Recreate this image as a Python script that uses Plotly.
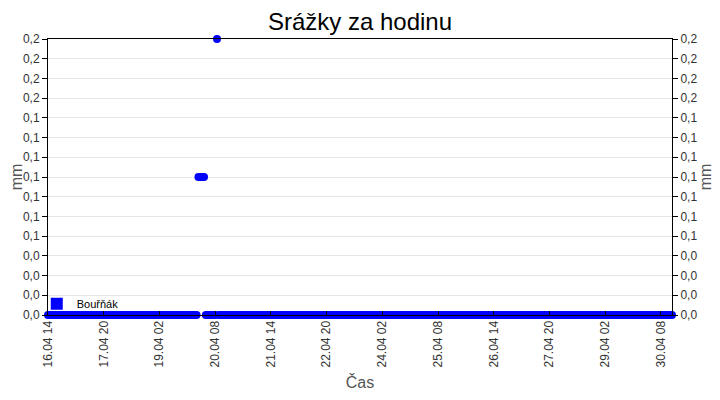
import plotly.graph_objects as go
import pandas as pd

# ---- data ----
start_time = "2024-04-16 14:00"
hours_count = 337  # hourly readings, 16.04 14:00 .. 30.04 14:00
rain_mm = [0.0] * 81 + [0.1] * 4 + [0.0] * 6 + [0.2] + [0.0] * 245
series_name = "Bouřňák"
title_text = "Srážky za hodinu"
x_title = "Čas"
y_title = "mm"
tick_step_hours = 30
y_max = 0.2
y_ticks_n = 14

times = pd.date_range(start_time, periods=hours_count, freq="h")
xticks = list(times[::tick_step_hours])
xtext = [t.strftime("%d.%m %H") for t in xticks]
yvals = [y_max * i / y_ticks_n for i in range(y_ticks_n + 1)]
ytext = [f"{v:.1f}".replace(".", ",") for v in yvals]

font_family = "Liberation Sans, Arial, sans-serif"
tick_font = dict(family=font_family, size=12, color="#333")

# the page body has an 8px margin, so the figure is sized to fit the window
W, H = 712, 392

fig = go.Figure()
fig.add_trace(go.Scatter(
    x=times, y=rain_mm, mode="markers", name=series_name,
    marker=dict(color="#0000ff", size=8, symbol="circle"),
    showlegend=False, cliponaxis=False,
))
# legend entry (square swatch as in the reference)
fig.add_trace(go.Scatter(
    x=[None], y=[None], mode="markers", name=series_name,
    marker=dict(color="#0000ff", size=12, symbol="square"),
    showlegend=True,
))
# invisible trace for the right axis
fig.add_trace(go.Scatter(
    x=[times[0]], y=[0], mode="markers", yaxis="y2",
    marker=dict(opacity=0), showlegend=False, hoverinfo="skip",
))

fig.update_layout(
    width=W, height=H,
    margin=dict(l=40, r=48, t=31, b=85, autoexpand=False),
    paper_bgcolor="white", plot_bgcolor="white",
    title=dict(text=title_text, x=(40 + 664) / 2 / W, xanchor="center", xref="container",
               y=1 - 14 / H, yref="container", yanchor="middle", automargin=False,
               font=dict(family=font_family, size=24, color="black")),
    showlegend=True,
    legend=dict(x=-0.018, y=-0.012, xanchor="left", yanchor="bottom",
                bgcolor="rgba(255,255,255,0)", borderwidth=0,
                font=dict(family=font_family, size=11, color="black"),
                itemsizing="trace", itemwidth=30, tracegroupgap=0),
    xaxis=dict(
        range=[times[0], times[-1]], automargin=False,
        tickmode="array", tickvals=xticks, ticktext=xtext, tickangle=-90,
        ticks="inside", ticklen=4, tickcolor="black",
        showgrid=False, zeroline=False,
        showline=True, linecolor="black", linewidth=1, mirror=True,
        tickfont=tick_font,
        title=dict(text=x_title, font=dict(family=font_family, size=16, color="#555"), standoff=10),
    ),
    yaxis=dict(
        range=[0, y_max], automargin=False,
        tickmode="array", tickvals=yvals, ticktext=ytext,
        ticks="outside", ticklen=5, tickcolor="black",
        showgrid=True, gridcolor="#e6e6e6", zeroline=False,
        showline=True, linecolor="black", linewidth=1,
        tickfont=tick_font,
        title=dict(text=y_title, font=dict(family=font_family, size=16, color="#555"), standoff=4),
    ),
    yaxis2=dict(
        range=[0, y_max], overlaying="y", side="right", automargin=False,
        tickmode="array", tickvals=yvals, ticktext=ytext,
        ticks="outside", ticklen=5, tickcolor="black",
        showgrid=False, zeroline=False,
        showline=True, linecolor="black", linewidth=1,
        tickfont=tick_font,
        title=dict(text=y_title, font=dict(family=font_family, size=16, color="#555"), standoff=2),
    ),
)

fig.write_html("out.html")
